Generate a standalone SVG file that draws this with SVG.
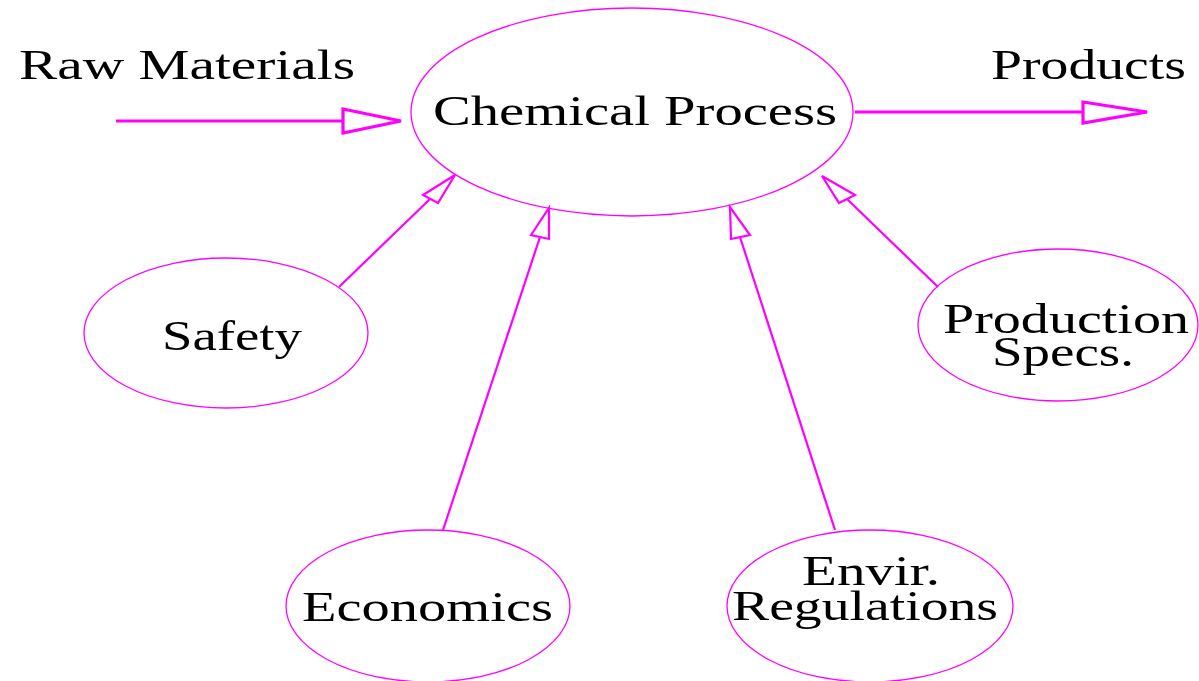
<svg xmlns="http://www.w3.org/2000/svg" width="1199" height="681" viewBox="0 0 1199 681">
<style>
.node ellipse{fill:#fff;stroke:#ff00ff;stroke-width:1.3}
text{font-family:"Liberation Serif","Times New Roman",serif;font-size:43px;fill:#000}
.e line{stroke:#ff00ff}
.e polygon{fill:#fff;stroke:#ff00ff}
.thick line,.thick polygon{stroke-width:3.2}
.thin line,.thin polygon{stroke-width:2.2}
</style>
<rect width="1199" height="681" fill="#fff"/>
<g id="labels">
<text x="19" y="79" textLength="336" lengthAdjust="spacingAndGlyphs">Raw Materials</text>
<text x="991" y="79" textLength="195" lengthAdjust="spacingAndGlyphs">Products</text>
</g>
<g id="chemical-process" class="node">
<ellipse cx="632" cy="112" rx="221" ry="104"/>
<text x="433" y="125" textLength="404" lengthAdjust="spacingAndGlyphs">Chemical Process</text>
</g>
<g id="safety" class="node">
<ellipse cx="226" cy="333" rx="142" ry="75"/>
<text x="162" y="350" textLength="140" lengthAdjust="spacingAndGlyphs">Safety</text>
</g>
<g id="production-specs" class="node">
<ellipse cx="1058" cy="325" rx="140" ry="76"/>
<text><tspan x="943" y="333" textLength="246" lengthAdjust="spacingAndGlyphs">Production</tspan><tspan x="992" y="366" textLength="142" lengthAdjust="spacingAndGlyphs">Specs.</tspan></text>
</g>
<g id="economics" class="node">
<ellipse cx="428" cy="606" rx="142" ry="76"/>
<text x="302" y="621" textLength="251" lengthAdjust="spacingAndGlyphs">Economics</text>
</g>
<g id="envir-regulations" class="node">
<ellipse cx="870" cy="606" rx="143" ry="76"/>
<text><tspan x="802" y="585" textLength="138" lengthAdjust="spacingAndGlyphs">Envir.</tspan><tspan x="732" y="620" textLength="266" lengthAdjust="spacingAndGlyphs">Regulations</tspan></text>
</g>
<g id="connectors" class="e">
<g class="thick">
<line x1="116" y1="121" x2="343" y2="121"/>
<polygon points="343,109 401,121 343,133"/>
<line x1="855" y1="112" x2="1083" y2="112"/>
<polygon points="1083,102 1147,112 1083,123"/>
</g>
<g class="thin">
<line x1="339" y1="287" x2="430" y2="199"/>
<polygon points="423,195 455,175 438,203"/>
<line x1="443" y1="530" x2="540" y2="237"/>
<polygon points="531,235 549,208 549,239"/>
<line x1="835" y1="530" x2="740" y2="237"/>
<polygon points="731,239 730,207 750,235"/>
<line x1="938" y1="287" x2="847" y2="199"/>
<polygon points="855,195 822,176 839,203"/>
</g>
</g>
</svg>
